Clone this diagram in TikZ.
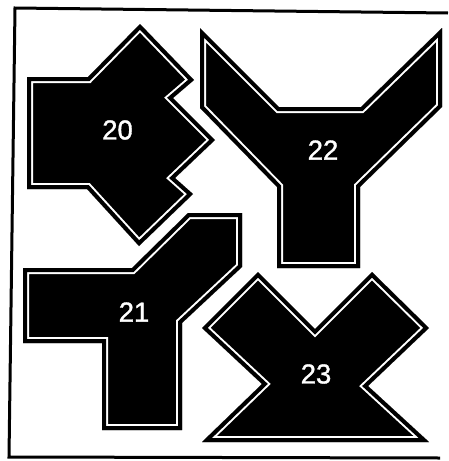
\documentclass[tikz,border=0pt]{standalone}
\usepackage{fontspec}
\setmainfont{Liberation Sans}
\newfontfamily\platefont[FakeBold=1.2]{Liberation Sans}
\newcommand\plate[1]{%
  \fill[black] #1;
  \begin{scope}
    \clip #1;
    \draw[white, line width=12pt, line join=miter] #1;
    \draw[black, line width=8pt, line join=miter] #1;
  \end{scope}}
\tikzset{
  framebox/.style={line width=3pt, line join=miter},
  platelabel/.style={text=white, font=\platefont\fontsize{27.5}{27.5}\selectfont, inner sep=0pt}
}
\begin{document}
\begin{tikzpicture}[x=1pt, y=-1pt]
\useasboundingbox[fill=white] (0,0) rectangle (448,461);
% frame
\draw[framebox] (448,13) -- (15,8) -- (9,457) -- (440,458);
% 20
\plate{(140,24) -- (194,80) -- (173,98) -- (215,140) -- (175,178) -- (193,194) -- (139,246) -- (87,189) -- (27,189) -- (27,77) -- (88,77) -- cycle}
\node[platelabel] (l20) at (117.5,130) {20};
% 22
\plate{(200,28) -- (279,107) -- (361,107) -- (442,28) -- (442,107) -- (360,187) -- (360,268) -- (277,268) -- (277,187) -- (200,108) -- cycle}
\node[platelabel] (l22) at (323,150) {22};
% 21
\plate{(23,268) -- (132,268) -- (188,213) -- (242,213) -- (242,267) -- (182,323) -- (182,430) -- (102,430) -- (102,343) -- (23,343) -- cycle}
\node[platelabel] (l21) at (134,312) {21};
% 23
\plate{(258,272) -- (315,329) -- (372,272) -- (429,328) -- (368,386) -- (429,442) -- (202,442) -- (262,384) -- (202,328) -- cycle}
\node[platelabel] (l23) at (316,374) {23};
\end{tikzpicture}
\end{document}
